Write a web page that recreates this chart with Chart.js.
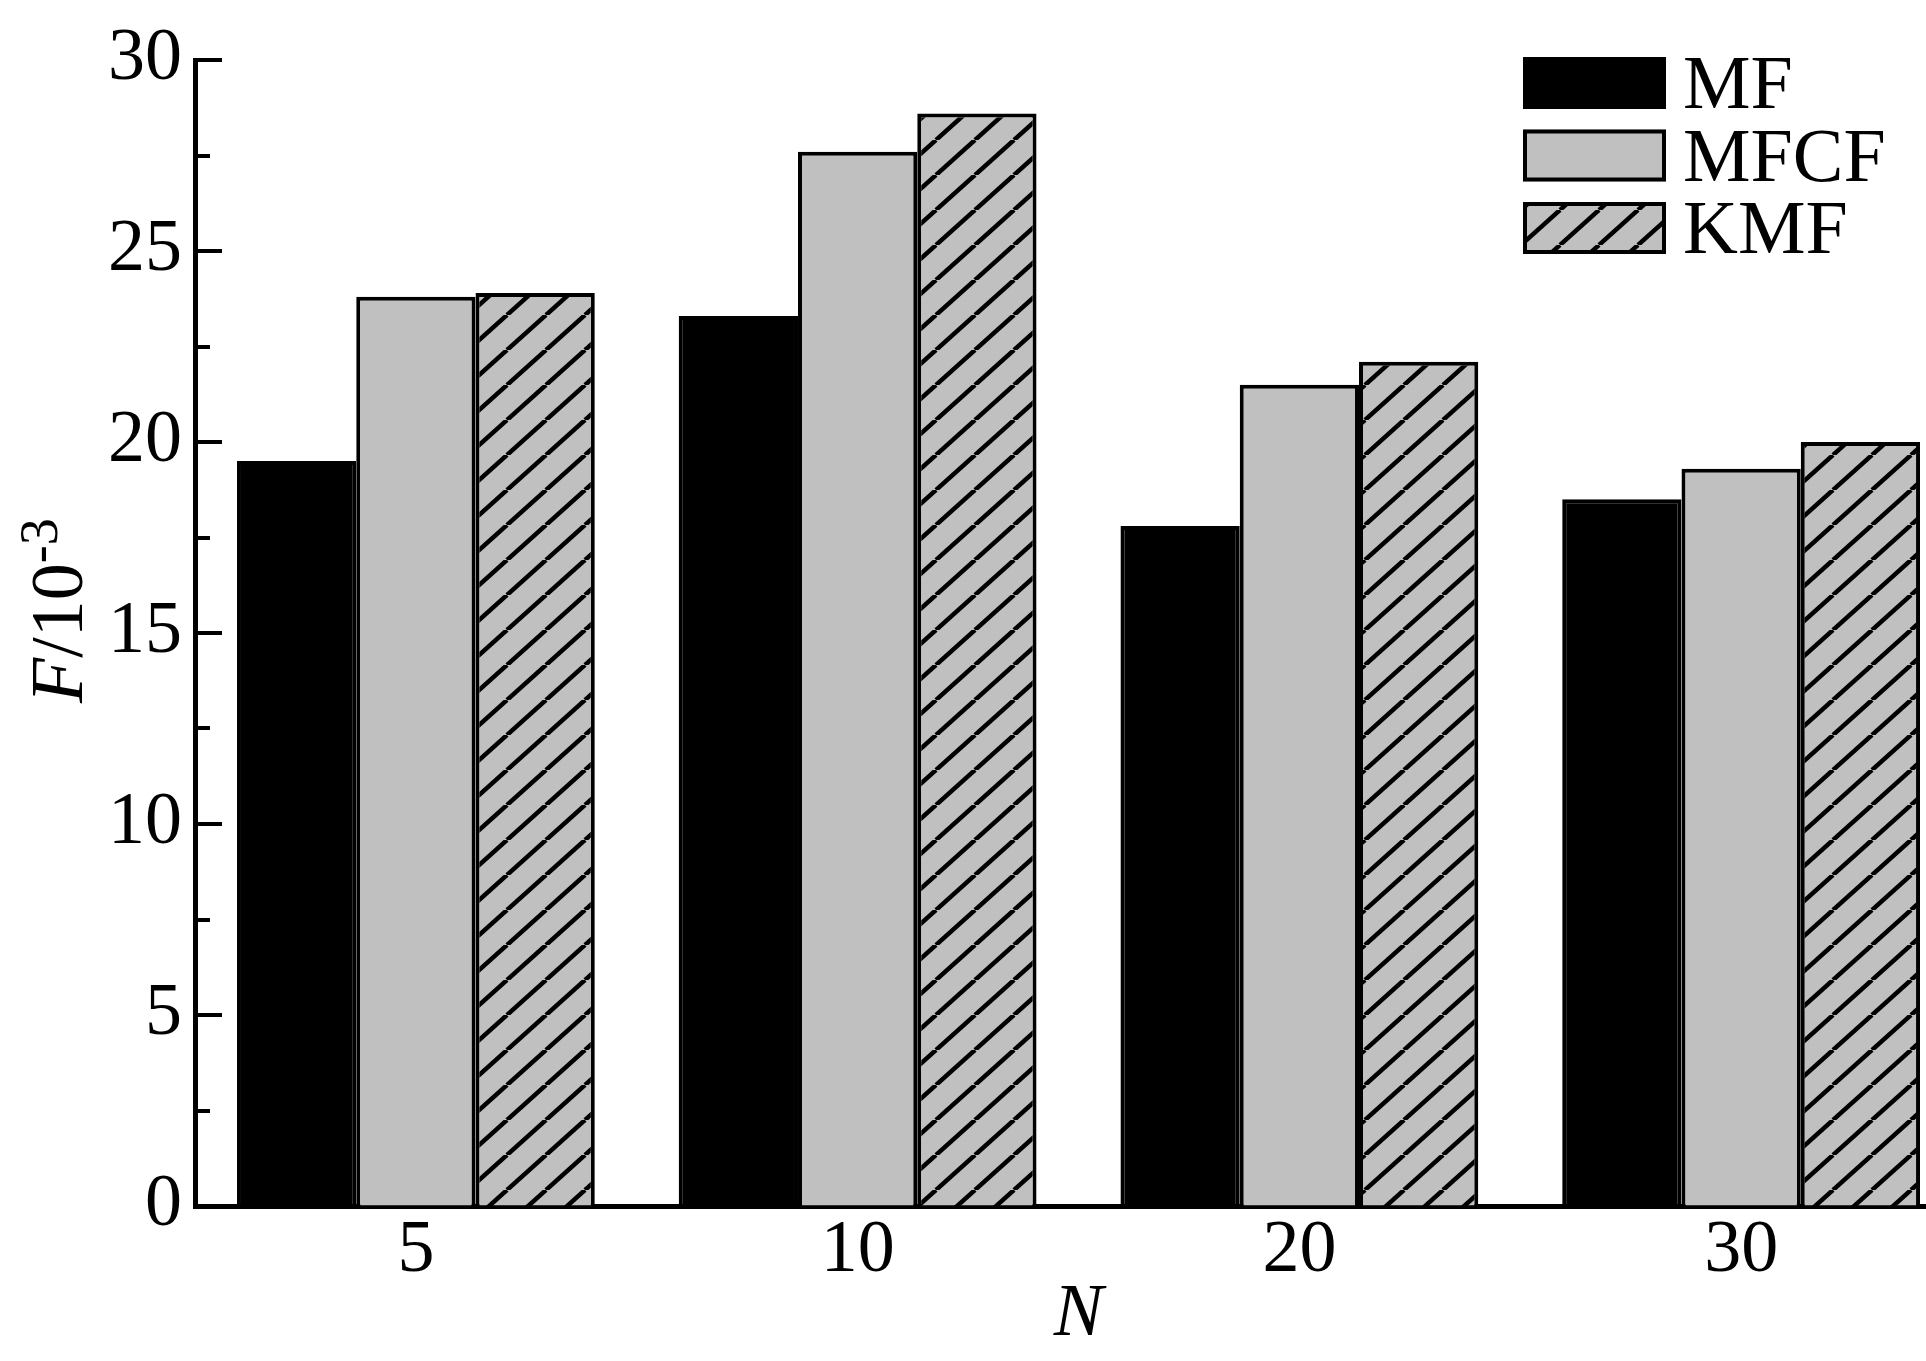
<!DOCTYPE html>
<html>
<head>
<meta charset="utf-8">
<script src="https://cdn.jsdelivr.net/npm/chart.js@4.4.1/dist/chart.umd.min.js"></script>
<style>
  html, body { margin: 0; padding: 0; background: #fff; overflow: hidden; }
  canvas { display: block; }
</style>
</head>
<body>
<canvas id="fChart" width="1962" height="1361"></canvas>
<script>
// values (F in units of 10^-3)
const categories = ['5', '10', '20', '30'];
const seriesNames = ['MF', 'MFCF', 'KMF'];
const mfValues = [19.5, 23.3, 17.8, 18.5];
const mfcfValues = [23.8, 27.6, 21.5, 19.3];
const kmfValues = [23.9, 28.6, 22.1, 20.0];
const yTicks = [0, 5, 10, 15, 20, 25, 30];
const yMinorStep = 2.5;

const FONT = '"Liberation Serif", "Times New Roman", serif';
const GRAY = '#c0c0c0';

const canvas = document.getElementById('fChart');
const ctx = canvas.getContext('2d');

// diagonal hatch "/" on gray
function makeHatch() {
  const w = 39, h = 35;
  const tile = document.createElement('canvas');
  tile.width = w;
  tile.height = h;
  const g = tile.getContext('2d');
  g.fillStyle = GRAY;
  g.fillRect(0, 0, w, h);
  g.strokeStyle = '#000';
  g.lineWidth = 4.5;
  for (let k = -1; k <= 1; k++) {
    g.beginPath();
    g.moveTo(k * w, h);
    g.lineTo(k * w + w, 0);
    g.stroke();
  }
  return ctx.createPattern(tile, 'repeat');
}
const hatch = makeHatch();

// inward ticks, rotated y title and the boxed legend
const axisDecor = {
  id: 'axisDecor',
  afterDraw(chart) {
    const { ctx, chartArea, scales: { y } } = chart;
    ctx.save();

    ctx.strokeStyle = '#000';
    ctx.lineWidth = 4;
    for (let v = y.min + yMinorStep; v <= y.max + 0.001; v += yMinorStep) {
      const py = Math.round(y.getPixelForValue(v));
      const len = (v % 5 === 0) ? 27 : 15;
      ctx.beginPath();
      ctx.moveTo(chartArea.left, py);
      ctx.lineTo(chartArea.left + len, py);
      ctx.stroke();
    }

    // F/10^-3
    ctx.fillStyle = '#000';
    ctx.textBaseline = 'alphabetic';
    ctx.textAlign = 'left';
    ctx.translate(82, 703);
    ctx.rotate(-Math.PI / 2);
    ctx.font = 'italic 74px ' + FONT;
    ctx.fillText('F', 0, 0);
    let xPos = ctx.measureText('F').width;
    ctx.font = '74px ' + FONT;
    ctx.fillText('/10', xPos, 0);
    xPos += ctx.measureText('/10').width;
    ctx.font = '54px ' + FONT;
    ctx.fillText('-3', xPos, -25);
    ctx.setTransform(1, 0, 0, 1, 0, 0);

    // legend
    const boxX = 1523, boxW = 143, boxH = 52, top0 = 57, pitch = 72.5;
    chart.data.datasets.forEach((ds, i) => {
      const by = top0 + i * pitch;
      ctx.fillStyle = ds.backgroundColor;
      ctx.fillRect(boxX, by, boxW, boxH);
      ctx.strokeStyle = '#000';
      ctx.lineWidth = 4;
      ctx.strokeRect(boxX + 2, by + 2, boxW - 4, boxH - 4);
      ctx.fillStyle = '#000';
      ctx.font = '76px ' + FONT;
      ctx.fillText(ds.label, 1683, by + boxH - 1);
    });

    ctx.restore();
  }
};

new Chart(ctx, {
  type: 'bar',
  data: {
    labels: categories,
    datasets: [
      {
        label: seriesNames[0],
        data: mfValues,
        backgroundColor: '#000',
        borderColor: '#000',
        borderWidth: 4
      },
      {
        label: seriesNames[1],
        data: mfcfValues,
        backgroundColor: GRAY,
        borderColor: '#000',
        borderWidth: 4
      },
      {
        label: seriesNames[2],
        data: kmfValues,
        backgroundColor: hatch,
        borderColor: '#000',
        borderWidth: 4
      }
    ]
  },
  options: {
    responsive: false,
    animation: false,
    categoryPercentage: 0.81,
    barPercentage: 1.0,
    layout: { padding: { top: 60, left: 0, right: 0, bottom: 0 } },
    plugins: {
      legend: { display: false },
      tooltip: { enabled: false }
    },
    scales: {
      x: {
        z: 1,
        grid: { drawOnChartArea: false, drawTicks: false },
        border: { color: '#000', width: 5 },
        ticks: { color: '#000', font: { family: FONT, size: 74 }, padding: 1 },
        title: {
          display: true,
          text: 'N',
          color: '#000',
          font: { family: FONT, size: 74, style: 'italic' },
          padding: { top: 0, bottom: 1 }
        },
        afterFit: s => { s.height = 155; }
      },
      y: {
        min: 0,
        max: 30,
        grid: { drawOnChartArea: false, drawTicks: false },
        border: { color: '#000', width: 5 },
        ticks: { color: '#000', font: { family: FONT, size: 74 }, padding: 13 },
        afterBuildTicks: s => { s.ticks = yTicks.map(v => ({ value: v })); },
        afterFit: s => { s.width = 195; }
      }
    }
  },
  plugins: [axisDecor]
});
</script>
</body>
</html>
